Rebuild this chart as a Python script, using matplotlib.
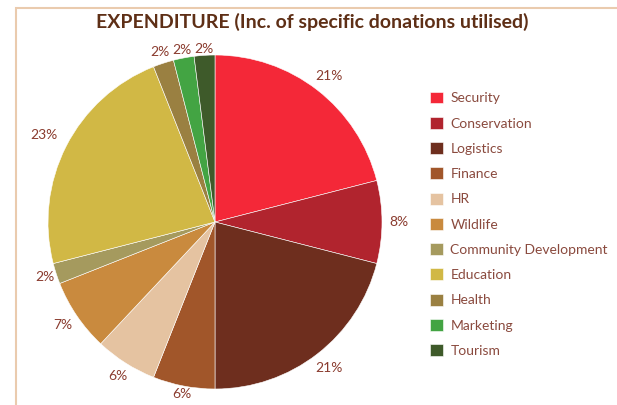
import matplotlib
matplotlib.use('Agg')
import matplotlib.pyplot as plt
import numpy as np
from matplotlib.patches import Rectangle

plt.rcParams['font.family'] = ['Lato', 'DejaVu Sans']

# data
categories = ['Security', 'Conservation', 'Logistics', 'Finance', 'HR', 'Wildlife',
              'Community Development', 'Education', 'Health', 'Marketing', 'Tourism']
shares = [21, 8, 21, 6, 6, 7, 2, 23, 2, 2, 2]
colors = ['#F42838', '#B1242E', '#6E2E1E', '#A1562A', '#E5C3A1', '#C98A3E',
          '#A59A5E', '#D1B845', '#9A8041', '#43A443', '#3E5A2A']
# label distance from centre (fraction of radius), as placed in the original
label_r = [1.11, 1.10, 1.11, 1.05, 1.09, 1.10, 1.07, 1.15, 1.07, 1.05, 1.04]

W, H = 617, 405
fig = plt.figure(figsize=(W / 100, H / 100), dpi=100)

# outer frame
fig.patches.append(Rectangle((16 / W, -0.1), 2, 1 - 8 / H + 0.1, transform=fig.transFigure,
                             fill=False, edgecolor='#EACBAE', linewidth=1.5))

cx, cy, r = 215, H - 222, 167
ax = fig.add_axes([(cx - r) / W, (cy - r) / H, 2 * r / W, 2 * r / H])
wedges, _, autotexts = ax.pie(shares, colors=colors, startangle=90, counterclock=False,
                              autopct=lambda p: f'{p:.0f}%', pctdistance=1.1,
                              wedgeprops=dict(edgecolor='white', linewidth=0.4),
                              textprops=dict(color='#8A3B2E', fontsize=10))
for w, t, d in zip(wedges, autotexts, label_r):
    a = np.deg2rad((w.theta1 + w.theta2) / 2)
    t.set_position((d * np.cos(a), d * np.sin(a)))
ax.set_xlim(-1, 1)
ax.set_ylim(-1, 1)
ax.set_aspect('equal')

fig.text(312 / W, 1 - 22 / H, 'EXPENDITURE (Inc. of specific donations utilised)',
         ha='center', va='center', fontsize=14, fontweight='bold', color='#5E2F16')

leg = fig.legend(wedges, categories, loc='upper left', bbox_to_anchor=(417 / W, 1 - 79 / H),
                 frameon=False, fontsize=10, handlelength=0.95, handleheight=0.95,
                 handletextpad=0.55, labelspacing=0.9)
for t in leg.get_texts():
    t.set_color('#8A4A3E')

fig.savefig('out.png', dpi=100)
